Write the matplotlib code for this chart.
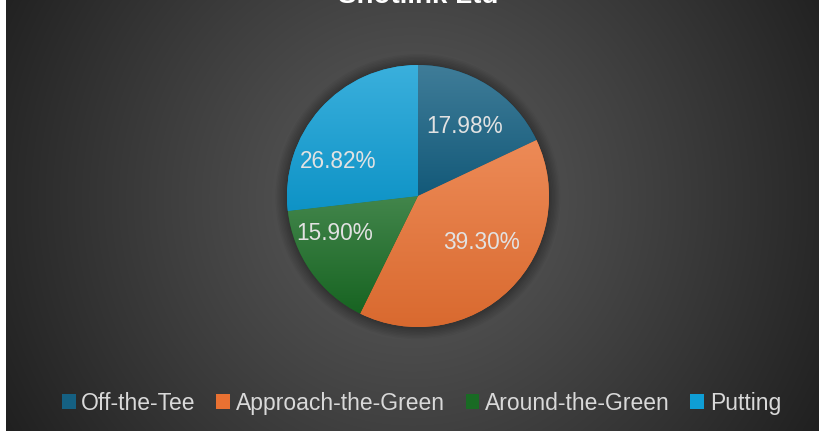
import numpy as np
import matplotlib
matplotlib.use("Agg")
import matplotlib.pyplot as plt
from matplotlib.patches import Patch, Circle
from matplotlib.colors import to_rgb

categories = ["Off-the-Tee", "Approach-the-Green", "Around-the-Green", "Putting"]
values = [17.98, 39.30, 15.90, 26.82]
colors = ["#156082", "#E97132", "#196B24", "#0F9ED5"]
title = "Shotlink Ltd"

W, H = 819, 435
fig = plt.figure(figsize=(W / 100, H / 100), dpi=100)
fig.patch.set_facecolor("white")

# chart area background with radial gradient
x0, y0, x1, y1 = 6, 0, 819, 432
bg = fig.add_axes([x0 / W, (H - y1) / H, (x1 - x0) / W, (y1 - y0) / H])
bg.set_axis_off()
gh, gw = y1 - y0, x1 - x0
yy, xx = np.mgrid[0:gh, 0:gw]
cx, cy = 412 - x0, 200
d = np.sqrt((xx - cx) ** 2 + (yy - cy) ** 2)
d = d / d.max()
c_in = np.array(to_rgb("#5c5c5c"))
c_out = np.array(to_rgb("#202020"))
t = np.clip(d, 0, 1) ** 1.1
img = c_in[None, None, :] * (1 - t[..., None]) + c_out[None, None, :] * t[..., None]
bg.imshow(img, aspect="auto", extent=[0, 1, 0, 1], interpolation="bilinear")
bg.set_xlim(0, 1)
bg.set_ylim(0, 1)

# pie axes
pcx, pcy, r = 418, 197, 131
ax = fig.add_axes([(pcx - r) / W, (H - pcy - r) / H, 2 * r / W, 2 * r / H])
ax.set_axis_off()

# soft shadow
for k in range(8):
    c = Circle((0, -0.005), 1.0 + 0.011 * (k + 1), color="black",
               alpha=0.04, lw=0, zorder=0)
    c.set_clip_on(False)
    ax.add_patch(c)

wedges, texts, autotexts = ax.pie(
    values, colors=colors, startangle=90, counterclock=False,
    autopct="%.2f%%", pctdistance=0.66, radius=1.0,
    wedgeprops=dict(linewidth=0, zorder=2),
    textprops=dict(color="#e2e2e2", fontsize=16.3, family="Liberation Sans"),
)
ax.set_xlim(-1, 1)
ax.set_ylim(-1, 1)
ax.set_aspect("equal")

# per-wedge vertical gradient
for w, col in zip(wedges, colors):
    base = np.array(to_rgb(col))
    top = base + (1 - base) * 0.18
    bot = base * 0.93
    verts = w.get_path().vertices
    ymin, ymax = verts[:, 1].min(), verts[:, 1].max()
    xmin, xmax = verts[:, 0].min(), verts[:, 0].max()
    n = 256
    tt = np.linspace(0, 1, n)[:, None]
    grad = top[None, :] * (1 - tt) + bot[None, :] * tt
    grad = np.repeat(grad[:, None, :], 2, axis=1)
    im = ax.imshow(grad, extent=[xmin, xmax, ymin, ymax], aspect="auto",
                   zorder=3, interpolation="bilinear")
    im.set_clip_path(w)
    w.set_zorder(2)
for at in autotexts:
    at.set_zorder(5)

# nudge labels toward Excel-like best-fit placements
offsets = [(0.0, -0.02), (0.02, 0.12), (-0.10, 0.10), (-0.12, -0.17)]
for at, (dx, dy) in zip(autotexts, offsets):
    x, y = at.get_position()
    at.set_position((x + dx, y + dy))

ax.set_xlim(-1, 1)
ax.set_ylim(-1, 1)

# title (cut off at top, as in the reference)
fig.text(418 / W, 1 - 3 / H, title, ha="center", va="baseline",
         fontsize=20, fontweight="bold", color="white", family="Liberation Sans")

handles = [Patch(facecolor=c, edgecolor="none") for c in colors]
leg = fig.legend(handles, categories, loc="center", ncol=4,
                 bbox_to_anchor=(421.5 / W, 1 - 404 / H), frameon=False,
                 handlelength=0.6, handleheight=0.6, handletextpad=0.25,
                 columnspacing=0.9,
                 prop=dict(family="Liberation Sans", size=16.5))
for txt in leg.get_texts():
    txt.set_color("#d9d9d9")

fig.savefig("out.png", dpi=100, facecolor=fig.get_facecolor())
